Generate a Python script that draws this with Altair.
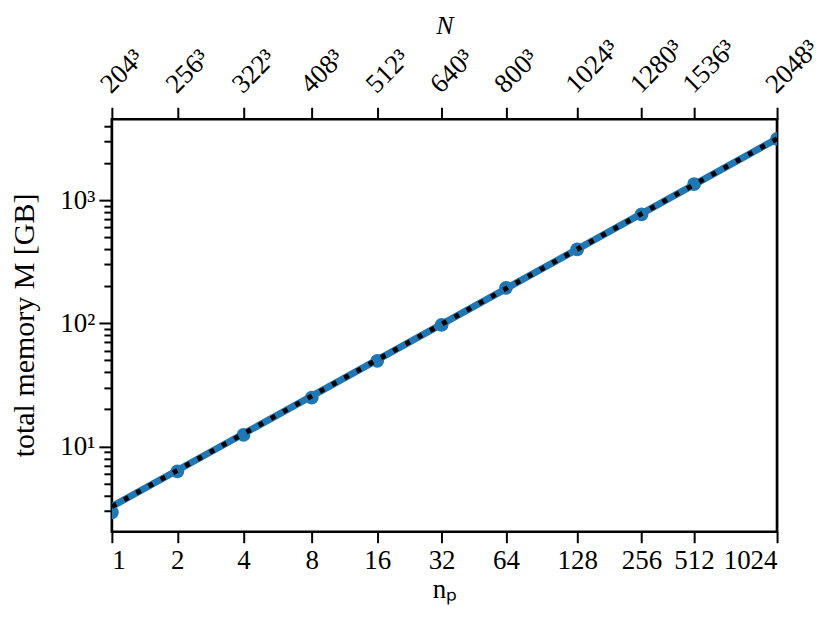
import altair as alt
import pandas as pd

# ---- data ----
n_p = [1, 2, 4, 8, 16, 32, 64, 128, 256, 512, 1024]
N = [204, 256, 322, 408, 512, 640, 800, 1024, 1280, 1536, 2048]
memory_gb = [2.92, 6.27, 12.4, 24.9, 49.6, 97, 194, 398, 766, 1349, 3150]
fit_N = [204, 2048]
fit_memory_gb = [3.25, 3150]
y_major = [10, 100, 1000]
y_minor = [3, 4, 5, 6, 7, 8, 9, 20, 30, 40, 50, 60, 70, 80, 90,
           200, 300, 400, 500, 600, 700, 800, 900, 2000, 3000, 4000]
N_labels = [f"{n}³" for n in N]
np_labels = [str(v) for v in n_p]

df = pd.DataFrame({"N": N, "np": n_p, "M": memory_gb})
fit = pd.DataFrame({"N": fit_N, "M": fit_memory_gb})

FONT = "Liberation Serif"
FS = 27
BLUE = "#1f77b4"

xscale = alt.Scale(type="log", base=2, domain=[204, 2048], nice=False)
yscale = alt.Scale(type="log", domain=[2.03, 4540], nice=False)

arr_vals = "[" + ",".join(str(v) for v in N) + "]"
arr_np = "[" + ",".join(f"'{s}'" for s in np_labels) + "]"
arr_N = "[" + ",".join(f"'{s}'" for s in N_labels) + "]"

common = dict(domain=False, grid=False, tickColor="black", tickWidth=2,
              labelFont=FONT, labelFontSize=FS, labelColor="black",
              labelOverlap=False, labelBound=False,
              titleFont=FONT, titleColor="black",
              titleFontWeight="normal")

bottom_axis = alt.Axis(orient="bottom", values=N, tickSize=11, labelPadding=5,
                       labelExpr=f"{arr_np}[indexof({arr_vals}, datum.value)]",
                       title="nₚ", titleFontSize=FS, titleX=333, titleY=66,
                       titleAlign="center", titleBaseline="alphabetic", **common)
top_axis = alt.Axis(orient="top", values=N, tickSize=12, labelPadding=19,
                    labelAngle=315, labelAlign="left", labelBaseline="middle",
                    labelOffset=-7,
                    labelExpr=f"{arr_N}[indexof({arr_vals}, datum.value)]",
                    title="N", titleFontSize=26, titleFontStyle="italic",
                    titleX=333, titleY=-86,
                    titleAlign="center", titleBaseline="alphabetic", **common)
left_major = alt.Axis(orient="left", values=y_major, tickSize=13, labelPadding=4,
                      labelExpr="datum.value == 10 ? '10¹' : datum.value == 100 ? '10²' : '10³'",
                      title="total memory M [GB]", titleFontSize=30,
                      titleX=-87, titleY=206,
                      titleAngle=270, titleAlign="center", titleBaseline="middle",
                      **common)
left_minor = alt.Axis(orient="left", values=y_minor, tickSize=8, labels=False,
                      title=None, **common)

fit_line = alt.Chart(fit).mark_line(color=BLUE, strokeWidth=7, clip=True).encode(
    x=alt.X("N:Q", scale=xscale, axis=bottom_axis),
    y=alt.Y("M:Q", scale=yscale, axis=left_major),
)
points = alt.Chart(df).mark_circle(color=BLUE, size=190, opacity=1, clip=True).encode(
    x=alt.X("N:Q", scale=xscale, axis=top_axis),
    y=alt.Y("M:Q", scale=yscale, axis=left_minor),
)
dotted = alt.Chart(fit).mark_line(color="black", strokeWidth=5, strokeDash=[5, 9],
                                  strokeCap="butt", clip=True).encode(
    x=alt.X("N:Q", scale=xscale, axis=None),
    y=alt.Y("M:Q", scale=yscale, axis=None),
)

chart = alt.layer(fit_line, points, dotted).resolve_axis(
    x="independent", y="independent"
).properties(
    width=666, height=413,
    autosize=alt.AutoSizeParams(type="none"),
    padding={"left": 104, "top": 111, "right": 46, "bottom": 78},
).configure(background="white", font=FONT).configure_view(stroke="black", strokeWidth=2.7)

chart.save("out.html", embed_options={"renderer": "svg", "actions": False})
